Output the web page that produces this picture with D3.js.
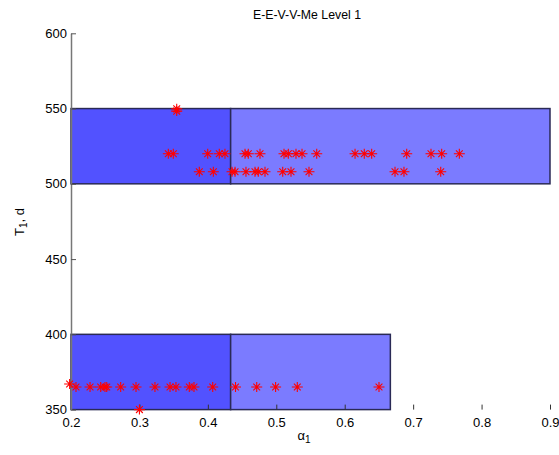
<!DOCTYPE html>
<html><head><meta charset="utf-8">
<script src="https://cdn.jsdelivr.net/npm/d3@7"></script>
<style>body{margin:0;background:#fff;} text{font-family:"Liberation Sans",Arial,sans-serif;}</style>
</head><body><svg id="c" width="559" height="455"></svg>
<script>
const title = "E-E-V-V-Me Level 1";
const xTicks = [0.2,0.3,0.4,0.5,0.6,0.7,0.8,0.9];
const yTicks = [350,400,450,500,550,600];
// rectangles: [x0, x1, y0, y1, shade]
const rectX0 = [0.2, 0.4333, 0.2, 0.4333];
const rectX1 = [0.4333, 0.9, 0.4333, 0.6667];
const rectY0 = [500, 500, 350, 350];
const rectY1 = [550, 550, 400, 400];
const rectShade = ["dark","light","dark","light"];
// points (alpha1, T1)
const row520 = [0.3422,0.3495,0.3998,0.4167,0.4250,0.4543,0.4591,0.4762,0.5113,0.5176,0.5288,0.5376,0.5591,0.6151,0.6286,0.6394,0.6906,0.7261,0.7417,0.7675];
const row508 = [0.3875,0.4080,0.4353,0.4397,0.4557,0.4689,0.4737,0.4835,0.5094,0.5215,0.5478,0.6735,0.6866,0.7403];
const row365 = [0.2073,0.2278,0.2434,0.2497,0.2522,0.2726,0.2950,0.3227,0.3447,0.3534,0.3729,0.3797,0.4071,0.4404,0.4714,0.4990,0.5307,0.6501];
const extraX = [0.3545, 0.3545, 0.198, 0.300];
const extraY = [548.3, 549.8, 367, 350];

const svg = d3.select("#c");
const x = d3.scaleLinear().domain([0.2,0.9]).range([71,550]);
const y = d3.scaleLinear().domain([350,600]).range([409.6,33.3]);
const fills = {dark:"#5252ff", light:"#7b7bff"};

svg.selectAll("rect.r").data(rectX0.map((d,i)=>i)).enter().append("rect")
  .attr("x", i=>x(rectX0[i])).attr("width", i=>x(rectX1[i])-x(rectX0[i]))
  .attr("y", i=>y(rectY1[i])).attr("height", i=>y(rectY0[i])-y(rectY1[i]))
  .attr("fill", i=>fills[rectShade[i]]).attr("stroke","#2a2a55").attr("stroke-width",1.5);

// x axis (ticks only, inward)
const gx = svg.append("g").attr("transform","translate(0,409.6)")
  .call(d3.axisBottom(x).tickValues(xTicks).tickFormat(d3.format(".1f")).tickSizeInner(-5).tickSizeOuter(0).tickPadding(8));
gx.select(".domain").remove();
gx.selectAll("line").attr("stroke","#333");
gx.selectAll("text").attr("font-size",13).attr("fill","#000");

const gy = svg.append("g").attr("transform","translate(71,0)")
  .call(d3.axisLeft(y).tickValues(yTicks).tickSizeInner(-5).tickSizeOuter(0).tickPadding(4));
gy.select(".domain").attr("stroke","#777").attr("stroke-width",1.5);
gy.selectAll("line").attr("stroke","#555");
gy.selectAll("text").attr("font-size",13).attr("fill","#000");

// points
const pts = [];
row520.forEach(v=>pts.push([v,520]));
row508.forEach(v=>pts.push([v,508]));
row365.forEach(v=>pts.push([v,365]));
extraX.forEach((v,i)=>pts.push([v,extraY[i]]));
const star = "M-5.5,0H5.5M0,-5V5M-3.4,-3.4L3.4,3.4M-3.4,3.4L3.4,-3.4";
svg.append("g").selectAll("path").data(pts).enter().append("path")
  .attr("transform", d=>`translate(${x(d[0])},${y(d[1])})`)
  .attr("d", star).attr("stroke","#ff0000").attr("stroke-width",1.1).attr("fill","none");

svg.append("text").attr("x",307).attr("y",19).attr("text-anchor","middle").attr("font-size",12.3).text(title);

const xl = svg.append("text").attr("x",304).attr("y",440).attr("text-anchor","middle").attr("font-size",13);
xl.append("tspan").text("α");
xl.append("tspan").attr("font-size",10).attr("dy",3).text("1");

const yl = svg.append("text").attr("transform","translate(24,222) rotate(-90)").attr("text-anchor","middle").attr("font-size",13);
yl.append("tspan").text("T");
yl.append("tspan").attr("font-size",10).attr("dy",3).text("1");
yl.append("tspan").attr("dy",-3).text(", d");
</script></body></html>
